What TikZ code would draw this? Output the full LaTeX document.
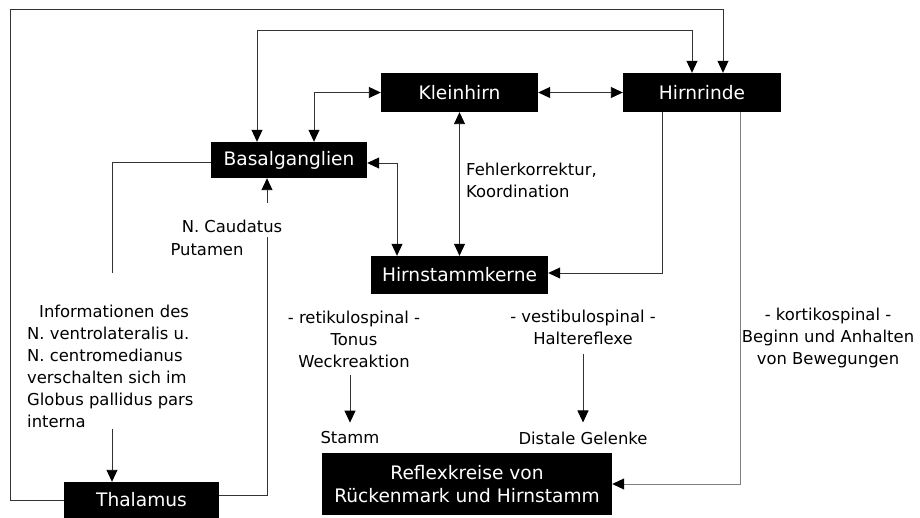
\documentclass[tikz,border=0pt]{standalone}
\usepackage{fontspec}
\usepackage{tikz}
\usetikzlibrary{arrows.meta}
\newfontfamily\diafont{DejaVu Sans}
\newcommand{\boxfont}{\diafont\fontsize{18.6}{23}\selectfont}
\newcommand{\lblfont}{\diafont\fontsize{16.4}{22}\selectfont}

\begin{document}
\begin{tikzpicture}[x=1pt,y=-1pt]
        \tikzstyle{block}=[rectangle,fill=black,text=white,inner sep=0pt,font=\boxfont,align=center]
        \tikzstyle{lbl}=[inner sep=0pt,font=\lblfont]
        \tikzstyle{link}=[draw=black!80,line width=0.9pt]
        \tikzstyle{oneway}=[link,-{Triangle[length=12pt,width=11pt,color=black]}]
        \tikzstyle{twoway}=[link,{Triangle[length=12pt,width=11pt,color=black]}-{Triangle[length=12pt,width=11pt,color=black]}]
        \useasboundingbox [fill=white] (0,0) rectangle (920,518);
        % boxes
        \node [block,minimum width=157pt,minimum height=39pt] (kleinhirn) at (459.5,92.5) {Kleinhirn};
        \node [block,minimum width=158pt,minimum height=39pt] (hirnrinde) at (702,92.5) {Hirnrinde};
        \node [block,minimum width=156pt,minimum height=36pt] (basal) at (289,160) {Basalganglien};
        \node [block,minimum width=177pt,minimum height=38pt] (kerne) at (459.5,275) {Hirnstammkerne};
        \node [block,minimum width=290pt,minimum height=62pt] (reflex) at (467,484) {Reflexkreise von\\R\"uckenmark und Hirnstamm};
        \node [block,minimum width=155pt,minimum height=36pt] (thalamus) at (141.5,500) {Thalamus};
        % labels
        \node [lbl,anchor=west,align=left] (fehler) at (466,180) {Fehlerkorrektur,\\Koordination};
        \node [lbl] (caudatus) at (232,226) {N. Caudatus};
        \node [lbl] (putamen) at (207,250) {Putamen};
        \node [lbl,anchor=west,align=left] (info) at (27,366) {\hspace{12pt}Informationen des\\N. ventrolateralis u.\\N. centromedianus\\verschalten sich im\\Globus pallidus pars\\interna};
        \node [lbl,align=center] (reti) at (354,339) {- retikulospinal -\\Tonus\\Weckreaktion};
        \node [lbl,align=center] (vesti) at (583,327) {- vestibulospinal -\\Haltereflexe};
        \node [lbl,align=center] (korti) at (828,338) {- kortikospinal -\\Beginn und Anhalten\\von Bewegungen};
        \node [lbl] (stamm) at (350,438) {Stamm};
        \node [lbl] (distale) at (583,438) {Distale Gelenke};
        \coordinate (infoup) at (112,273);
        \coordinate (infodown) at (112,429);
        \coordinate (caudlow) at (267,237);
        \coordinate (caudup) at (267,203);
        % connectors
        \draw [oneway] (thalamus.west) -| (10,9) -| (723,0 |- hirnrinde.north);
        \draw [twoway] (257,0 |- basal.north) |- (692,30) -- (692,0 |- hirnrinde.north);
        \draw [twoway] (314,0 |- basal.north) |- (kleinhirn.west);
        \draw [twoway] (kleinhirn.east) -- (hirnrinde.west);
        \draw [twoway] ([yshift=-3pt]basal.east) -| (397,0 |- kerne.north);
        \draw [twoway] (kleinhirn.south) -- (kleinhirn.south |- kerne.north);
        \draw [oneway] (662,0 |- hirnrinde.south) |- ([yshift=2pt]kerne.east);
        \draw [oneway,draw=black!50] (740,0 |- hirnrinde.south) |- (reflex.east);
        \draw [link] ([yshift=-2pt]basal.west) -| (infoup);
        \draw [oneway] (infodown) -- (112,0 |- thalamus.north);
        \draw [link] ([yshift=5pt]thalamus.east) -| (caudlow);
        \draw [oneway] (caudup) -- (267,0 |- basal.south);
        \draw [oneway,shorten <=7pt,shorten >=9pt] (stamm.north |- reti.south) -- (stamm.north);
        \draw [oneway,shorten <=9pt,shorten >=9pt] (distale.north |- vesti.south) -- (distale.north);
\end{tikzpicture}
\end{document}
